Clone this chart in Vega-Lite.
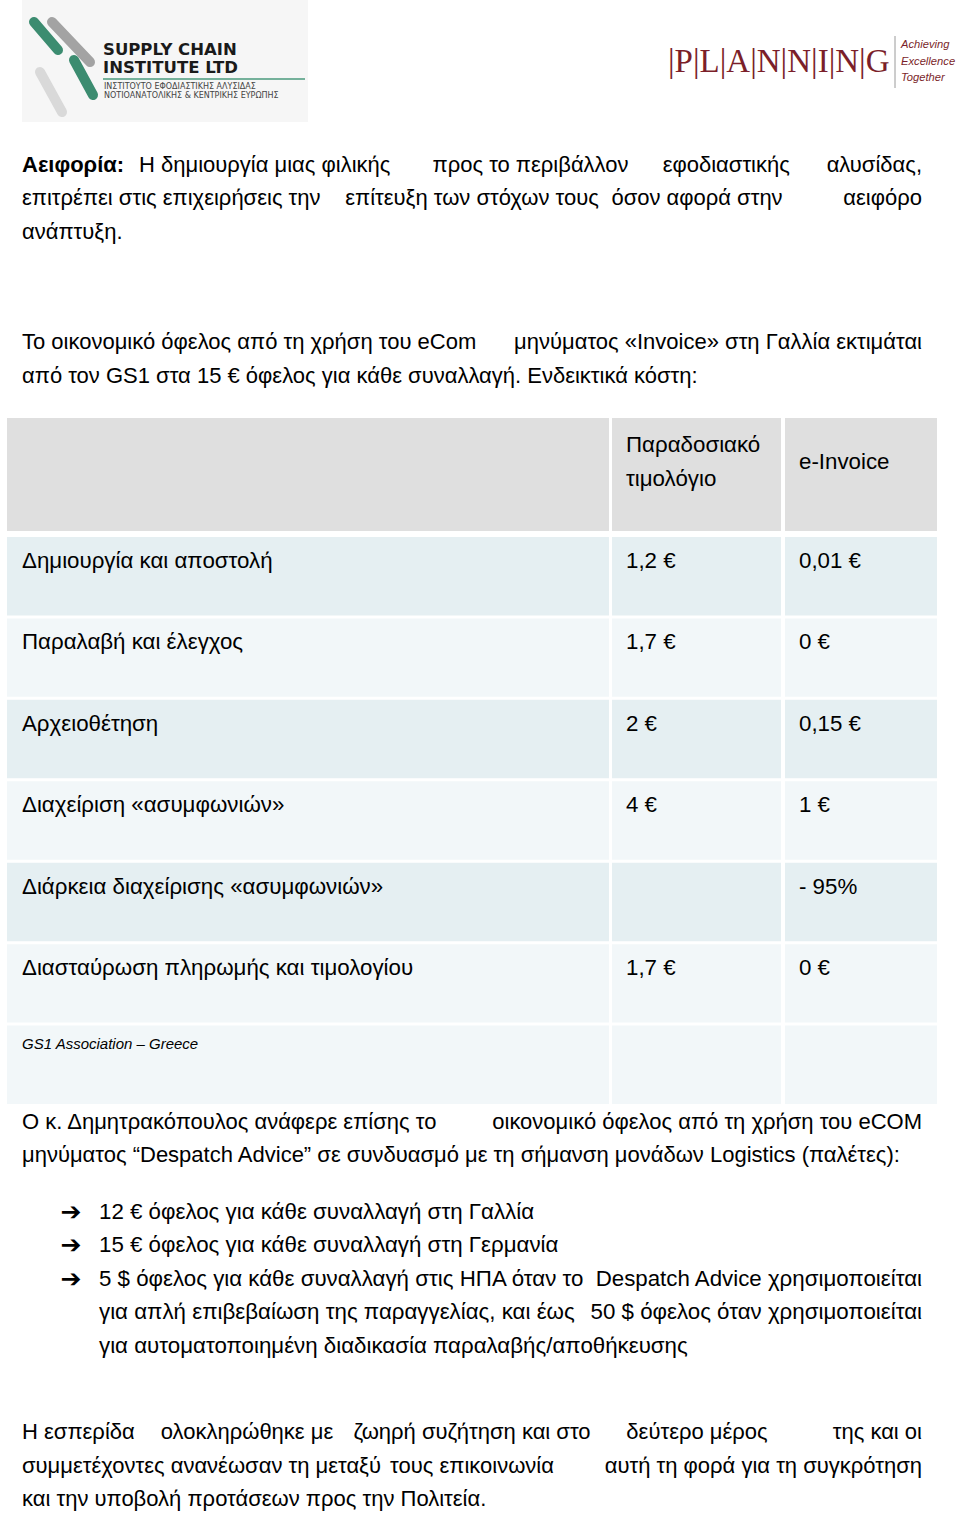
{
  "$schema": "https://vega.github.io/schema/vega-lite/v6.json",
  "width": 960,
  "height": 1513,
  "padding": 0,
  "autosize": {"type": "none"},
  "background": "white",
  "config": {
    "view": {"stroke": null},
    "axis": {"disable": true},
    "legend": {"disable": true},
    "text": {"font": "Liberation Sans", "color": "#000000"}
  },
  "datasets": {
    "logoParts": [{"logo": "Supply Chain Institute"}],
    "sciName": [{"line": 1, "text": "SUPPLY CHAIN"}, {"line": 2, "text": "INSTITUTE LTD"}],
    "sciGreek": [{"line": 1, "text": "ΙΝΣΤΙΤΟΥΤΟ ΕΦΟΔΙΑΣΤΙΚΗΣ ΑΛΥΣΙΔΑΣ"}, {"line": 2, "text": "ΝΟΤΙΟΑΝΑΤΟΛΙΚΗΣ & ΚΕΝΤΡΙΚΗΣ ΕΥΡΩΠΗΣ"}],
    "planning": [{"text": "|P|L|A|N|N|I|N|G"}],
    "tagline": [{"line": 1, "text": "Achieving"}, {"line": 2, "text": "Excellence"}, {"line": 3, "text": "Together"}],
    "p1": [
      {"line": 1, "anchor": "start", "role": "term", "text": "Αειφορία:"},
      {"line": 1, "anchor": "start", "text": "Η δημιουργία μιας φιλικής"},
      {"line": 1, "anchor": "mid", "text": "προς το περιβάλλον"},
      {"line": 1, "anchor": "q3", "text": "εφοδιαστικής"},
      {"line": 1, "anchor": "end", "text": "αλυσίδας,"},
      {"line": 2, "anchor": "start", "text": "επιτρέπει στις επιχειρήσεις την"},
      {"line": 2, "anchor": "mid", "text": "επίτευξη των στόχων τους"},
      {"line": 2, "anchor": "q3", "text": "όσον αφορά στην"},
      {"line": 2, "anchor": "end", "text": "αειφόρο"},
      {"line": 3, "anchor": "start", "text": "ανάπτυξη."}
    ],
    "p2": [
      {"line": 1, "anchor": "start", "text": "Το οικονομικό όφελος από τη χρήση του eCom"},
      {"line": 1, "anchor": "end", "text": "μηνύματος «Invoice» στη Γαλλία εκτιμάται"},
      {"line": 2, "anchor": "start", "text": "από τον GS1 στα 15 € όφελος για κάθε συναλλαγή. Ενδεικτικά κόστη:"}
    ],
    "thead": [
      {"part": "header", "col": "c1", "text": ""},
      {"part": "header", "col": "c2", "text": "Παραδοσιακό\nτιμολόγιο"},
      {"part": "header", "col": "c3", "text": "e-Invoice"}
    ],
    "tbody": [
      {"row": 1, "col": "c1", "text": "Δημιουργία και αποστολή"},
      {"row": 1, "col": "c2", "text": "1,2 €"},
      {"row": 1, "col": "c3", "text": "0,01 €"},
      {"row": 2, "col": "c1", "text": "Παραλαβή και έλεγχος"},
      {"row": 2, "col": "c2", "text": "1,7 €"},
      {"row": 2, "col": "c3", "text": "0 €"},
      {"row": 3, "col": "c1", "text": "Αρχειοθέτηση"},
      {"row": 3, "col": "c2", "text": "2 €"},
      {"row": 3, "col": "c3", "text": "0,15 €"},
      {"row": 4, "col": "c1", "text": "Διαχείριση «ασυμφωνιών»"},
      {"row": 4, "col": "c2", "text": "4 €"},
      {"row": 4, "col": "c3", "text": "1 €"},
      {"row": 5, "col": "c1", "text": "Διάρκεια διαχείρισης «ασυμφωνιών»"},
      {"row": 5, "col": "c2", "text": ""},
      {"row": 5, "col": "c3", "text": "- 95%"},
      {"row": 6, "col": "c1", "text": "Διασταύρωση πληρωμής και τιμολογίου"},
      {"row": 6, "col": "c2", "text": "1,7 €"},
      {"row": 6, "col": "c3", "text": "0 €"},
      {"row": 7, "col": "c1", "text": "GS1 Association – Greece"},
      {"row": 7, "col": "c2", "text": ""},
      {"row": 7, "col": "c3", "text": ""}
    ],
    "p3": [
      {"line": 1, "anchor": "start", "text": "Ο κ. Δημητρακόπουλος ανάφερε επίσης το"},
      {"line": 1, "anchor": "end", "text": "οικονομικό όφελος από τη χρήση του eCOM"},
      {"line": 2, "anchor": "start", "text": "μηνύματος “Despatch Advice” σε συνδυασμό με τη σήμανση μονάδων Logistics (παλέτες):"}
    ],
    "bullets": [
      {"item": 1, "line": 1, "anchor": "start", "text": "12 € όφελος για κάθε συναλλαγή στη Γαλλία"},
      {"item": 2, "line": 2, "anchor": "start", "text": "15 € όφελος για κάθε συναλλαγή στη Γερμανία"},
      {"item": 3, "line": 3, "anchor": "start", "text": "5 $ όφελος για κάθε συναλλαγή στις ΗΠΑ όταν το"},
      {"item": 3, "line": 3, "anchor": "end", "text": "Despatch Advice χρησιμοποιείται"},
      {"item": 3, "line": 4, "anchor": "start", "text": "για απλή επιβεβαίωση της παραγγελίας, και έως"},
      {"item": 3, "line": 4, "anchor": "end", "text": "50 $ όφελος όταν χρησιμοποιείται"},
      {"item": 3, "line": 5, "anchor": "start", "text": "για αυτοματοποιημένη διαδικασία παραλαβής/αποθήκευσης"}
    ],
    "closing": [
      {"line": 1, "anchor": "start", "text": "Η εσπερίδα"},
      {"line": 1, "anchor": "q1", "text": "ολοκληρώθηκε με"},
      {"line": 1, "anchor": "mid", "text": "ζωηρή συζήτηση και στο"},
      {"line": 1, "anchor": "q3", "text": "δεύτερο μέρος"},
      {"line": 1, "anchor": "end", "text": "της και οι"},
      {"line": 2, "anchor": "start", "text": "συμμετέχοντες ανανέωσαν τη μεταξύ"},
      {"line": 2, "anchor": "mid", "text": "τους επικοινωνία"},
      {"line": 2, "anchor": "end", "text": "αυτή τη φορά για τη συγκρότηση"},
      {"line": 3, "anchor": "start", "text": "και την υποβολή προτάσεων προς την Πολιτεία."}
    ]
  },
  "resolve": {"scale": {"x": "independent", "y": "independent", "fill": "independent"}},
  "layer": [
    {
      "data": {"name": "logoParts"},
      "mark": {"type": "rect", "fill": "#f6f6f6"},
      "encoding": {"x": {"value": 22}, "x2": {"value": 308}, "y": {"value": 0}, "y2": {"value": 122}}
    },
    {
      "data": {"name": "logoParts"},
      "mark": {"type": "rule", "stroke": "#d9d9d9", "strokeWidth": 10, "strokeCap": "round"},
      "encoding": {"x": {"value": 40}, "y": {"value": 72}, "x2": {"value": 62}, "y2": {"value": 112}}
    },
    {
      "data": {"name": "logoParts"},
      "mark": {"type": "rule", "stroke": "#a3a3a3", "strokeWidth": 10, "strokeCap": "round"},
      "encoding": {"x": {"value": 52}, "y": {"value": 22}, "x2": {"value": 90}, "y2": {"value": 62}}
    },
    {
      "data": {"name": "logoParts"},
      "mark": {"type": "rule", "stroke": "#3c8c70", "strokeWidth": 10, "strokeCap": "round"},
      "encoding": {"x": {"value": 34}, "y": {"value": 22}, "x2": {"value": 58}, "y2": {"value": 50}}
    },
    {
      "data": {"name": "logoParts"},
      "mark": {"type": "rule", "stroke": "#3c8c70", "strokeWidth": 10, "strokeCap": "round"},
      "encoding": {"x": {"value": 74}, "y": {"value": 60}, "x2": {"value": 93}, "y2": {"value": 95}}
    },
    {
      "data": {"name": "logoParts"},
      "mark": {"type": "rule", "stroke": "#4a9a7c", "strokeWidth": 1.5},
      "encoding": {"x": {"value": 103}, "x2": {"value": 305}, "y": {"value": 79}}
    },
    {
      "data": {"name": "sciName"},
      "mark": {"type": "text", "align": "left", "baseline": "middle", "font": "DejaVu Sans", "fontWeight": "bold", "fontSize": 16.5, "color": "#1a1a1a"},
      "encoding": {
        "x": {"value": 103},
        "y": {"field": "line", "type": "ordinal", "scale": {"type": "point", "domain": [1, 2], "range": [50, 68], "padding": 0}, "axis": null},
        "text": {"field": "text"}
      }
    },
    {
      "data": {"name": "sciGreek"},
      "mark": {"type": "text", "align": "left", "baseline": "middle", "font": "DejaVu Sans", "fontSize": 8, "color": "#444444"},
      "encoding": {
        "x": {"value": 104},
        "y": {"field": "line", "type": "ordinal", "scale": {"type": "point", "domain": [1, 2], "range": [87, 96], "padding": 0}, "axis": null},
        "text": {"field": "text"}
      }
    },
    {
      "data": {"name": "planning"},
      "mark": {"type": "text", "align": "left", "baseline": "alphabetic", "font": "Liberation Serif", "fontSize": 33, "color": "#7b1f2a"},
      "encoding": {"x": {"value": 668}, "y": {"value": 72}, "text": {"field": "text"}}
    },
    {
      "data": {"name": "logoParts"},
      "mark": {"type": "rule", "stroke": "#9a9a9a", "strokeWidth": 1},
      "encoding": {"x": {"value": 895}, "y": {"value": 36}, "y2": {"value": 88}}
    },
    {
      "data": {"name": "tagline"},
      "mark": {"type": "text", "align": "left", "baseline": "middle", "fontSize": 11.2, "fontStyle": "italic", "color": "#7b1f2a"},
      "encoding": {
        "x": {"value": 901},
        "y": {"field": "line", "type": "ordinal", "scale": {"type": "point", "domain": [1, 2, 3], "range": [45, 78], "padding": 0}, "axis": null},
        "text": {"field": "text"}
      }
    },
    {
      "data": {"name": "p1"},
      "encoding": {
        "y": {"field": "line", "type": "ordinal", "scale": {"type": "point", "domain": [1, 2, 3], "range": [164.5, 231.5], "padding": 0}, "axis": null},
        "text": {"field": "text"}
      },
      "resolve": {"scale": {"x": "independent"}},
      "layer": [
        {
          "transform": [{"filter": "datum.line !== 1 || datum.role === 'term'"}],
          "encoding": {
            "x": {"field": "anchor", "type": "ordinal", "scale": {"type": "point", "domain": ["start", "q1", "mid", "q3", "end"], "range": [22, 922], "padding": 0}, "axis": null}
          },
          "layer": [
            {"transform": [{"filter": "datum.anchor === 'start' && datum.role !== 'term'"}], "mark": {"type": "text", "align": "left", "baseline": "middle", "fontSize": 22}},
            {"transform": [{"filter": "datum.role === 'term'"}], "mark": {"type": "text", "align": "left", "baseline": "middle", "fontSize": 22, "fontWeight": "bold"}},
            {"transform": [{"filter": "datum.anchor === 'q1' || datum.anchor === 'mid' || datum.anchor === 'q3'"}], "mark": {"type": "text", "align": "center", "baseline": "middle", "fontSize": 22}},
            {"transform": [{"filter": "datum.anchor === 'end'"}], "mark": {"type": "text", "align": "right", "baseline": "middle", "fontSize": 22}}
          ]
        },
        {
          "transform": [{"filter": "datum.line === 1 && datum.role !== 'term'"}],
          "encoding": {
            "x": {"field": "anchor", "type": "ordinal", "scale": {"type": "point", "domain": ["start", "q1", "mid", "q3", "end"], "range": [139, 922], "padding": 0}, "axis": null}
          },
          "layer": [
            {"transform": [{"filter": "datum.anchor === 'start'"}], "mark": {"type": "text", "align": "left", "baseline": "middle", "fontSize": 22}},
            {"transform": [{"filter": "datum.anchor === 'q1' || datum.anchor === 'mid' || datum.anchor === 'q3'"}], "mark": {"type": "text", "align": "center", "baseline": "middle", "fontSize": 22}},
            {"transform": [{"filter": "datum.anchor === 'end'"}], "mark": {"type": "text", "align": "right", "baseline": "middle", "fontSize": 22}}
          ]
        }
      ]
    },
    {
      "data": {"name": "p2"},
      "encoding": {
        "x": {"field": "anchor", "type": "ordinal", "scale": {"type": "point", "domain": ["start", "q1", "mid", "q3", "end"], "range": [22, 922], "padding": 0}, "axis": null},
        "y": {"field": "line", "type": "ordinal", "scale": {"type": "point", "domain": [1, 2], "range": [341.5, 375.5], "padding": 0}, "axis": null},
        "text": {"field": "text"}
      },
      "layer": [
        {"transform": [{"filter": "datum.anchor === 'start'"}], "mark": {"type": "text", "align": "left", "baseline": "middle", "fontSize": 22}},
        {"transform": [{"filter": "datum.anchor === 'end'"}], "mark": {"type": "text", "align": "right", "baseline": "middle", "fontSize": 22}}
      ]
    },
    {
      "data": {"name": "thead"},
      "transform": [{"filter": "datum.col === 'c1'"}],
      "encoding": {
        "x": {"field": "col", "type": "nominal", "scale": {"type": "band", "domain": ["c1"], "range": [7, 609], "paddingInner": 0, "paddingOuter": 0}, "axis": null},
        "y": {"field": "part", "type": "nominal", "scale": {"type": "band", "domain": ["header"], "range": [418, 531], "paddingInner": 0, "paddingOuter": 0}, "axis": null}
      },
      "layer": [{"mark": {"type": "rect", "fill": "#dfdfdf"}}]
    },
    {
      "data": {"name": "thead"},
      "transform": [{"filter": "datum.col === 'c2'"}],
      "encoding": {
        "x": {"field": "col", "type": "nominal", "scale": {"type": "band", "domain": ["c2"], "range": [612, 781], "paddingInner": 0, "paddingOuter": 0}, "axis": null},
        "y": {"field": "part", "type": "nominal", "scale": {"type": "band", "domain": ["header"], "range": [418, 531], "paddingInner": 0, "paddingOuter": 0}, "axis": null}
      },
      "layer": [
        {"mark": {"type": "rect", "fill": "#dfdfdf"}},
        {
          "mark": {"type": "text", "align": "left", "baseline": "middle", "dx": 14, "fontSize": 22.3, "lineBreak": "\n", "lineHeight": 34},
          "encoding": {
            "x": {"field": "col", "type": "nominal", "bandPosition": 0},
            "y": {"field": "part", "type": "nominal", "bandPosition": 0.239},
            "text": {"field": "text"}
          }
        }
      ]
    },
    {
      "data": {"name": "thead"},
      "transform": [{"filter": "datum.col === 'c3'"}],
      "encoding": {
        "x": {"field": "col", "type": "nominal", "scale": {"type": "band", "domain": ["c3"], "range": [785, 937], "paddingInner": 0, "paddingOuter": 0}, "axis": null},
        "y": {"field": "part", "type": "nominal", "scale": {"type": "band", "domain": ["header"], "range": [418, 531], "paddingInner": 0, "paddingOuter": 0}, "axis": null}
      },
      "layer": [
        {"mark": {"type": "rect", "fill": "#dfdfdf"}},
        {
          "mark": {"type": "text", "align": "left", "baseline": "middle", "dx": 14, "fontSize": 22.3},
          "encoding": {
            "x": {"field": "col", "type": "nominal", "bandPosition": 0},
            "y": {"field": "part", "type": "nominal", "bandPosition": 0.389},
            "text": {"field": "text"}
          }
        }
      ]
    },
    {
      "data": {"name": "tbody"},
      "transform": [{"filter": "datum.col === 'c1'"}],
      "encoding": {
        "x": {"field": "col", "type": "nominal", "scale": {"type": "band", "domain": ["c1"], "range": [7, 609], "paddingInner": 0, "paddingOuter": 0}, "axis": null},
        "y": {"field": "row", "type": "ordinal", "scale": {"type": "band", "domain": [1, 2, 3, 4, 5, 6, 7], "range": [537, 1104], "paddingInner": 0.037, "paddingOuter": 0}, "axis": null}
      },
      "layer": [
        {"mark": {"type": "rect"}, "encoding": {"fill": {"field": "row", "type": "ordinal", "scale": {"domain": [1, 2, 3, 4, 5, 6, 7], "range": ["#e5eff2", "#f2f7f9", "#e5eff2", "#f2f7f9", "#e5eff2", "#f2f7f9", "#f2f7f9"]}, "legend": null}}},
        {
          "transform": [{"filter": "datum.row < 7"}],
          "mark": {"type": "text", "align": "left", "baseline": "middle", "dx": 15, "fontSize": 22.3},
          "encoding": {
            "x": {"field": "col", "type": "nominal", "bandPosition": 0},
            "y": {"field": "row", "type": "ordinal", "bandPosition": 0.305},
            "text": {"field": "text"}
          }
        },
        {
          "transform": [{"filter": "datum.row === 7"}],
          "mark": {"type": "text", "align": "left", "baseline": "middle", "dx": 15, "fontSize": 15, "fontStyle": "italic"},
          "encoding": {
            "x": {"field": "col", "type": "nominal", "bandPosition": 0},
            "y": {"field": "row", "type": "ordinal", "bandPosition": 0.235},
            "text": {"field": "text"}
          }
        }
      ]
    },
    {
      "data": {"name": "tbody"},
      "transform": [{"filter": "datum.col === 'c2'"}],
      "encoding": {
        "x": {"field": "col", "type": "nominal", "scale": {"type": "band", "domain": ["c2"], "range": [612, 781], "paddingInner": 0, "paddingOuter": 0}, "axis": null},
        "y": {"field": "row", "type": "ordinal", "scale": {"type": "band", "domain": [1, 2, 3, 4, 5, 6, 7], "range": [537, 1104], "paddingInner": 0.037, "paddingOuter": 0}, "axis": null}
      },
      "layer": [
        {"mark": {"type": "rect"}, "encoding": {"fill": {"field": "row", "type": "ordinal", "scale": {"domain": [1, 2, 3, 4, 5, 6, 7], "range": ["#e5eff2", "#f2f7f9", "#e5eff2", "#f2f7f9", "#e5eff2", "#f2f7f9", "#f2f7f9"]}, "legend": null}}},
        {
          "mark": {"type": "text", "align": "left", "baseline": "middle", "dx": 14, "fontSize": 22.3},
          "encoding": {
            "x": {"field": "col", "type": "nominal", "bandPosition": 0},
            "y": {"field": "row", "type": "ordinal", "bandPosition": 0.305},
            "text": {"field": "text"}
          }
        }
      ]
    },
    {
      "data": {"name": "tbody"},
      "transform": [{"filter": "datum.col === 'c3'"}],
      "encoding": {
        "x": {"field": "col", "type": "nominal", "scale": {"type": "band", "domain": ["c3"], "range": [785, 937], "paddingInner": 0, "paddingOuter": 0}, "axis": null},
        "y": {"field": "row", "type": "ordinal", "scale": {"type": "band", "domain": [1, 2, 3, 4, 5, 6, 7], "range": [537, 1104], "paddingInner": 0.037, "paddingOuter": 0}, "axis": null}
      },
      "layer": [
        {"mark": {"type": "rect"}, "encoding": {"fill": {"field": "row", "type": "ordinal", "scale": {"domain": [1, 2, 3, 4, 5, 6, 7], "range": ["#e5eff2", "#f2f7f9", "#e5eff2", "#f2f7f9", "#e5eff2", "#f2f7f9", "#f2f7f9"]}, "legend": null}}},
        {
          "mark": {"type": "text", "align": "left", "baseline": "middle", "dx": 14, "fontSize": 22.3},
          "encoding": {
            "x": {"field": "col", "type": "nominal", "bandPosition": 0},
            "y": {"field": "row", "type": "ordinal", "bandPosition": 0.305},
            "text": {"field": "text"}
          }
        }
      ]
    },
    {
      "data": {"name": "p3"},
      "encoding": {
        "x": {"field": "anchor", "type": "ordinal", "scale": {"type": "point", "domain": ["start", "q1", "mid", "q3", "end"], "range": [22, 922], "padding": 0}, "axis": null},
        "y": {"field": "line", "type": "ordinal", "scale": {"type": "point", "domain": [1, 2], "range": [1121.5, 1155], "padding": 0}, "axis": null},
        "text": {"field": "text"}
      },
      "layer": [
        {"transform": [{"filter": "datum.anchor === 'start'"}], "mark": {"type": "text", "align": "left", "baseline": "middle", "fontSize": 22}},
        {"transform": [{"filter": "datum.anchor === 'end'"}], "mark": {"type": "text", "align": "right", "baseline": "middle", "fontSize": 22}}
      ]
    },
    {
      "data": {"name": "bullets"},
      "encoding": {
        "x": {"field": "anchor", "type": "ordinal", "scale": {"type": "point", "domain": ["start", "q1", "mid", "q3", "end"], "range": [99, 922], "padding": 0}, "axis": null},
        "y": {"field": "line", "type": "ordinal", "scale": {"type": "point", "domain": [1, 2, 3, 4, 5], "range": [1211.5, 1345.5], "padding": 0}, "axis": null}
      },
      "layer": [
        {"transform": [{"filter": "datum.anchor === 'start'"}], "mark": {"type": "text", "align": "left", "baseline": "middle", "fontSize": 22.3}, "encoding": {"text": {"field": "text"}}},
        {"transform": [{"filter": "datum.anchor === 'end'"}], "mark": {"type": "text", "align": "right", "baseline": "middle", "fontSize": 22.3}, "encoding": {"text": {"field": "text"}}},
        {
          "transform": [{"aggregate": [{"op": "min", "field": "line", "as": "line"}], "groupby": ["item"]}],
          "mark": {"type": "text", "align": "center", "baseline": "middle", "dx": -28, "font": "DejaVu Sans", "fontWeight": "bold", "fontSize": 25},
          "encoding": {"x": {"datum": "start", "type": "ordinal"}, "text": {"value": "➔"}}
        }
      ]
    },
    {
      "data": {"name": "closing"},
      "encoding": {
        "x": {"field": "anchor", "type": "ordinal", "scale": {"type": "point", "domain": ["start", "q1", "mid", "q3", "end"], "range": [22, 922], "padding": 0}, "axis": null},
        "y": {"field": "line", "type": "ordinal", "scale": {"type": "point", "domain": [1, 2, 3], "range": [1432, 1499], "padding": 0}, "axis": null},
        "text": {"field": "text"}
      },
      "layer": [
        {"transform": [{"filter": "datum.anchor === 'start'"}], "mark": {"type": "text", "align": "left", "baseline": "middle", "fontSize": 22}},
        {"transform": [{"filter": "datum.anchor === 'q1' || datum.anchor === 'mid' || datum.anchor === 'q3'"}], "mark": {"type": "text", "align": "center", "baseline": "middle", "fontSize": 22}},
        {"transform": [{"filter": "datum.anchor === 'end'"}], "mark": {"type": "text", "align": "right", "baseline": "middle", "fontSize": 22}}
      ]
    }
  ]
}
